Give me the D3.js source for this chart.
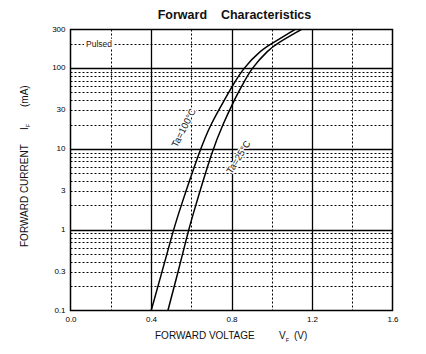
<!DOCTYPE html>
<html>
<head>
<meta charset="utf-8">
<script src="https://cdn.jsdelivr.net/npm/d3@7"></script>
<style>
  body { margin: 0; background: #fff; }
  svg { display: block; font-family: "Liberation Sans", Arial, sans-serif; }
</style>
</head>
<body>
<div id="viz"></div>
<script>
// forward current (mA) and forward voltage (V)
const currentPts = [0.1, 0.316, 1, 1.75, 10, 19.8, 40.4, 59, 100, 168, 200, 300];
const vf100 = [0.401, 0.457, 0.512, 0.542, 0.645, 0.695, 0.765, 0.803, 0.858, 0.948, 0.999, 1.115];
const vf25 = [0.484, 0.537, 0.587, 0.615, 0.707, 0.756, 0.814, 0.850, 0.899, 0.984, 1.024, 1.147];

const voltTicks = [0, 0.4, 0.8, 1.2, 1.6];
const currentTicks = [0.1, 0.3, 1, 3, 10, 30, 100, 300];
const voltMajor = [0.4, 0.8, 1.2];
const voltMinor = [0.2, 0.6, 1.0, 1.4];
const currentMajor = [1, 10, 100];
const currentMinor = [0.2, 0.3, 0.4, 0.5, 0.6, 0.7, 0.8, 0.9,
                      2, 3, 4, 5, 6, 7, 8, 9,
                      20, 30, 40, 50, 60, 70, 80, 90, 200];

const W = 426, H = 354;
const x0 = 70.5, x1 = 392.5, y0 = 310.5, y1 = 29.5;

const x = d3.scaleLinear().domain([0, 1.6]).range([x0, x1]);
const y = d3.scaleLog().domain([0.1, 300]).range([y0, y1]);

const svg = d3.select('#viz').append('svg')
    .attr('width', W)
    .attr('height', H);

svg.append('rect').attr('width', W).attr('height', H).attr('fill', '#fff');

// title
svg.append('text')
    .attr('x', 234.5)
    .attr('y', 19)
    .attr('text-anchor', 'middle')
    .attr('font-size', 12.5)
    .attr('font-weight', 'bold')
    .attr('fill', '#111')
    .style('white-space', 'pre')
    .text('Forward    Characteristics');

// dotted grid
const grid = svg.append('g');
grid.selectAll('line.vmin')
    .data(voltMinor)
    .enter().append('line')
    .attr('class', 'vmin')
    .attr('x1', d => Math.round(x(d)) + 0.5).attr('x2', d => Math.round(x(d)) + 0.5)
    .attr('y1', y1).attr('y2', y0)
    .attr('stroke', '#000').attr('stroke-width', 1)
    .attr('stroke-dasharray', '2,2');

grid.selectAll('line.hmin')
    .data(currentMinor)
    .enter().append('line')
    .attr('class', 'hmin')
    .attr('x1', x0).attr('x2', x1)
    .attr('y1', d => Math.round(y(d)) + 0.5).attr('y2', d => Math.round(y(d)) + 0.5)
    .attr('stroke', '#000').attr('stroke-width', 1)
    .attr('stroke-dasharray', '2,2');

// solid grid
grid.selectAll('line.vmaj')
    .data(voltMajor)
    .enter().append('line')
    .attr('x1', d => Math.round(x(d)) + 0.5).attr('x2', d => Math.round(x(d)) + 0.5)
    .attr('y1', y1).attr('y2', y0)
    .attr('stroke', '#000').attr('stroke-width', 1.3);

grid.selectAll('line.hmaj')
    .data(currentMajor)
    .enter().append('line')
    .attr('x1', x0).attr('x2', x1)
    .attr('y1', d => Math.round(y(d)) + 0.5).attr('y2', d => Math.round(y(d)) + 0.5)
    .attr('stroke', '#000').attr('stroke-width', 1.3);

// "Pulsed" note sits on the 200 mA dotted line
const pulsed = svg.append('g');
const pt = pulsed.append('text')
    .attr('x', x(0.077))
    .attr('y', y(200))
    .attr('dy', '0.35em')
    .attr('font-size', 8.5)
    .attr('fill', '#2a1010')
    .text('Pulsed');
const bb = pt.node().getBBox();
pulsed.insert('rect', 'text')
    .attr('x', bb.x - 2).attr('y', bb.y)
    .attr('width', bb.width + 4).attr('height', bb.height)
    .attr('fill', '#fff');

// curves
const line = d3.line()
    .x(d => x(d[0]))
    .y(d => y(d[1]))
    .curve(d3.curveBasis);

svg.append('path')
    .datum(d3.zip(vf100, currentPts))
    .attr('d', line)
    .attr('fill', 'none').attr('stroke', '#000').attr('stroke-width', 1.5);

svg.append('path')
    .datum(d3.zip(vf25, currentPts))
    .attr('d', line)
    .attr('fill', 'none').attr('stroke', '#000').attr('stroke-width', 1.5);

// curve labels
function curveLabel(v, i, ang, txt) {
    svg.append('text')
        .attr('transform', `translate(${x(v)},${y(i)}) rotate(${ang})`)
        .attr('text-anchor', 'middle')
        .attr('dy', '0.35em')
        .attr('font-size', 9.5)
        .attr('fill', '#111')
        .attr('stroke', '#fff').attr('stroke-width', 2.5)
        .attr('paint-order', 'stroke')
        .text(txt);
}
curveLabel(0.562, 18.2, -63, 'Ta=100°C');
curveLabel(0.834, 7.9, -58, 'Ta=25°C');

// frame
svg.append('rect')
    .attr('x', x0).attr('y', y1)
    .attr('width', x1 - x0).attr('height', y0 - y1)
    .attr('fill', 'none').attr('stroke', '#000').attr('stroke-width', 1.5);

// axes (labels only)
const xAxis = svg.append('g')
    .attr('transform', `translate(0,${y0})`)
    .call(d3.axisBottom(x).tickValues(voltTicks).tickFormat(d3.format('.1f')).tickSize(0).tickPadding(5.5));
const yAxis = svg.append('g')
    .attr('transform', `translate(${x0},0)`)
    .call(d3.axisLeft(y).tickValues(currentTicks).tickFormat(d => String(d)).tickSize(0).tickPadding(5));
[xAxis, yAxis].forEach(g => {
    g.select('.domain').remove();
    g.selectAll('text')
        .attr('font-size', 8)
        .attr('font-family', '"Liberation Sans", Arial, sans-serif')
        .attr('fill', '#000');
});
yAxis.selectAll('text').attr('dy', '0.2em');

// axis titles
const xt = svg.append('text')
    .attr('y', 339)
    .attr('font-size', 10)
    .attr('fill', '#111');
xt.append('tspan').attr('x', 155).text('FORWARD VOLTAGE');
xt.append('tspan').attr('x', 279).text('V');
xt.append('tspan').attr('dy', 2.5).attr('font-size', 5.5).text('F');
xt.append('tspan').attr('x', 294).attr('dy', -2.5).text('(V)');

const yt = svg.append('text')
    .attr('transform', 'translate(27.5,0) rotate(-90)')
    .attr('font-size', 10)
    .attr('fill', '#111');
yt.append('tspan').attr('x', -247).text('FORWARD CURRENT');
yt.append('tspan').attr('x', -130).text('I');
yt.append('tspan').attr('dy', 2.5).attr('font-size', 5.5).text('F');
yt.append('tspan').attr('x', -107).attr('dy', -2.5).text('(mA)');
</script>
</body>
</html>
